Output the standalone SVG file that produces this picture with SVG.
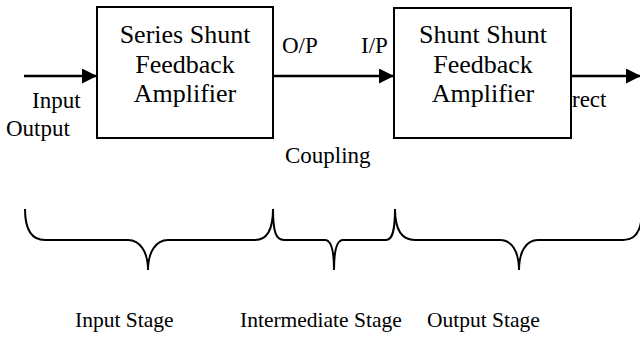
<svg xmlns="http://www.w3.org/2000/svg" width="640" height="338" viewBox="0 0 640 338">
<defs>
<style>
text{font-family:"Liberation Serif","Times New Roman",serif;fill:#000}
.bt{font-size:26px;text-anchor:middle}
.lb{font-size:23px}
.st{font-size:21.5px}
.box{fill:#fff;stroke:#000;stroke-width:2}
.ln{stroke:#000;stroke-width:2.5;fill:none}
.br{stroke:#000;stroke-width:2;fill:none}
</style>
<marker id="ah" markerWidth="15" markerHeight="15" viewBox="0 0 15 15" refX="15" refY="7.5" orient="auto" markerUnits="userSpaceOnUse">
<path d="M0,0 L15,7.5 L0,15 Z" fill="#000"/>
</marker>
</defs>
<rect width="640" height="338" fill="#fff"/>
<g id="connectors">
<line class="ln" x1="24" y1="76" x2="97" y2="76" marker-end="url(#ah)"/>
<line class="ln" x1="273" y1="76" x2="394" y2="76" marker-end="url(#ah)"/>
<line class="ln" x1="571" y1="76" x2="641" y2="76" marker-end="url(#ah)"/>
</g>
<g id="node-series">
<rect class="box" x="97" y="7" width="176" height="131"/>
<text class="bt" x="185" y="43">Series Shunt</text>
<text class="bt" x="185" y="73">Feedback</text>
<text class="bt" x="185" y="102">Amplifier</text>
</g>
<g id="node-shunt">
<rect class="box" x="394" y="8" width="177" height="130"/>
<text class="bt" x="483" y="43">Shunt Shunt</text>
<text class="bt" x="483" y="73">Feedback</text>
<text class="bt" x="483" y="102">Amplifier</text>
</g>
<g id="labels">
<text class="lb" x="32" y="108">Input</text>
<text class="lb" x="6" y="136">Output</text>
<text class="lb" x="282" y="53">O/P</text>
<text class="lb" x="361" y="53">I/P</text>
<text class="lb" x="285" y="163">Coupling</text>
<text class="lb" x="572" y="107">rect</text>
<text class="st" x="75" y="327">Input Stage</text>
<text class="st" x="240" y="327">Intermediate Stage</text>
<text class="st" x="427" y="327">Output Stage</text>
</g>
<g id="braces">
<path class="br" d="M25,209 C25,232 33,240 45,240 L128,240 C140,240 148,252 148,270 C148,252 156,240 168,240 L255,240 C265,240 273,232 273,209"/>
<path class="br" d="M273,209 C273,232 276,240 284,240 L325,240 C331,240 334,250 334,270 C334,250 337,240 343,240 L386,240 C392,240 395,232 395,209"/>
<path class="br" d="M395,209 C395,232 403,240 415,240 L500,240 C512,240 519,252 519,270 C519,252 526,240 538,240 L623,240 C633,240 639,234 641,222"/>
</g>
</svg>
